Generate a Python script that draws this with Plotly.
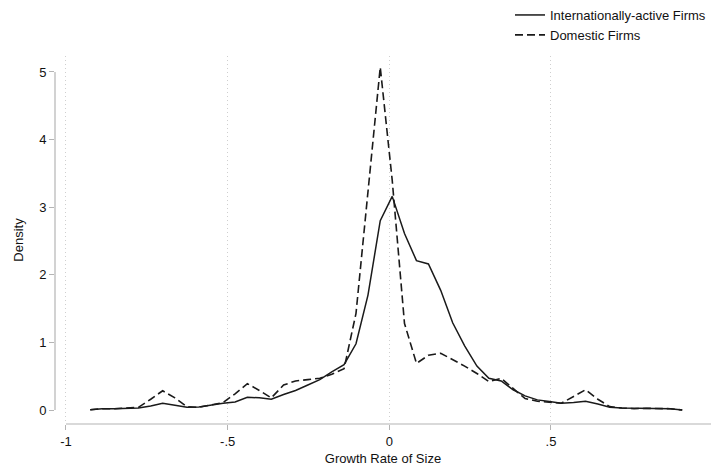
import plotly.graph_objects as go

# Growth-rate grid (evaluation points)
growth = [-0.925, -0.888, -0.850, -0.813, -0.776, -0.738, -0.701, -0.663, -0.626, -0.589,
          -0.551, -0.514, -0.477, -0.439, -0.402, -0.365, -0.327, -0.290, -0.252, -0.215,
          -0.178, -0.140, -0.103, -0.066, -0.028, 0.009, 0.047, 0.084, 0.121, 0.159,
          0.196, 0.233, 0.271, 0.308, 0.346, 0.383, 0.420, 0.458, 0.495, 0.532,
          0.570, 0.607, 0.645, 0.682, 0.719, 0.757, 0.794, 0.831, 0.869, 0.906]

intl_density = [0.005, 0.02, 0.02, 0.025, 0.03, 0.06, 0.10, 0.07, 0.04, 0.045,
                0.075, 0.10, 0.12, 0.19, 0.18, 0.16, 0.23, 0.29, 0.37, 0.45,
                0.565, 0.67, 0.98, 1.70, 2.80, 3.16, 2.61, 2.21, 2.16, 1.77,
                1.29, 0.95, 0.65, 0.47, 0.43, 0.30, 0.21, 0.15, 0.125, 0.10,
                0.11, 0.13, 0.09, 0.04, 0.03, 0.025, 0.025, 0.025, 0.02, 0.0]

dom_density = [0.005, 0.02, 0.02, 0.025, 0.04, 0.16, 0.285, 0.18, 0.05, 0.04,
               0.07, 0.11, 0.24, 0.39, 0.29, 0.18, 0.37, 0.43, 0.45, 0.47,
               0.53, 0.61, 1.43, 3.26, 5.07, 3.40, 1.28, 0.69, 0.81, 0.84,
               0.75, 0.65, 0.54, 0.42, 0.47, 0.32, 0.17, 0.13, 0.11, 0.10,
               0.20, 0.30, 0.16, 0.05, 0.03, 0.02, 0.025, 0.025, 0.02, 0.0]

x_ticks = [-1, -0.5, 0, 0.5]
x_ticklabels = ["-1", "-.5", "0", ".5"]
y_ticks = [0, 1, 2, 3, 4, 5]
y_ticklabels = ["0", "1", "2", "3", "4", "5"]

LINE = "#1a1a1a"
AXIS = "#b4b4b4"
FONT = "Liberation Sans, Arial, sans-serif"

fig = go.Figure()
fig.add_trace(go.Scatter(x=growth, y=intl_density, mode="lines",
                         name="Internationally-active Firms",
                         line=dict(color=LINE, width=1.5)))
fig.add_trace(go.Scatter(x=growth, y=dom_density, mode="lines",
                         name="Domestic Firms",
                         line=dict(color=LINE, width=1.6, dash="8px,4px")))

# Stata-style detached axis lines
fig.add_shape(type="line", xref="paper", yref="y", x0=0, x1=0, y0=0, y1=5,
              line=dict(color=AXIS, width=1.2))
fig.add_shape(type="line", xref="x", yref="paper", x0=-1, x1=1, y0=0, y1=0,
              line=dict(color=AXIS, width=1.2))

fig.update_layout(
    width=711, height=467,
    margin=dict(l=55, r=0, t=55, b=43),
    paper_bgcolor="white", plot_bgcolor="white",
    font=dict(family=FONT, size=13, color="#111"),
    showlegend=True,
    legend=dict(x=1.0, xanchor="right", y=1.153, yanchor="top",
                bgcolor="rgba(0,0,0,0)", font=dict(size=13),
                tracegroupgap=0, itemwidth=30),
    xaxis=dict(range=[-1.034, 0.995], tickvals=x_ticks, ticktext=x_ticklabels,
               showgrid=True, gridcolor="#cfcfcf", griddash="1px,3px", gridwidth=1,
               zeroline=False, showline=False, ticks="outside", ticklen=5,
               tickcolor=AXIS, tickwidth=1.2,
               title=dict(text="Growth Rate of Size", standoff=6,
                          font=dict(size=13))),
    yaxis=dict(range=[-0.2065, 5.236], tickvals=y_ticks, ticktext=y_ticklabels,
               showgrid=False, zeroline=False, showline=False,
               ticks="outside", ticklen=5, tickcolor=AXIS, tickwidth=1.2,
               title=dict(text="Density", standoff=12, font=dict(size=13))),
)

fig.write_html("out.html")
